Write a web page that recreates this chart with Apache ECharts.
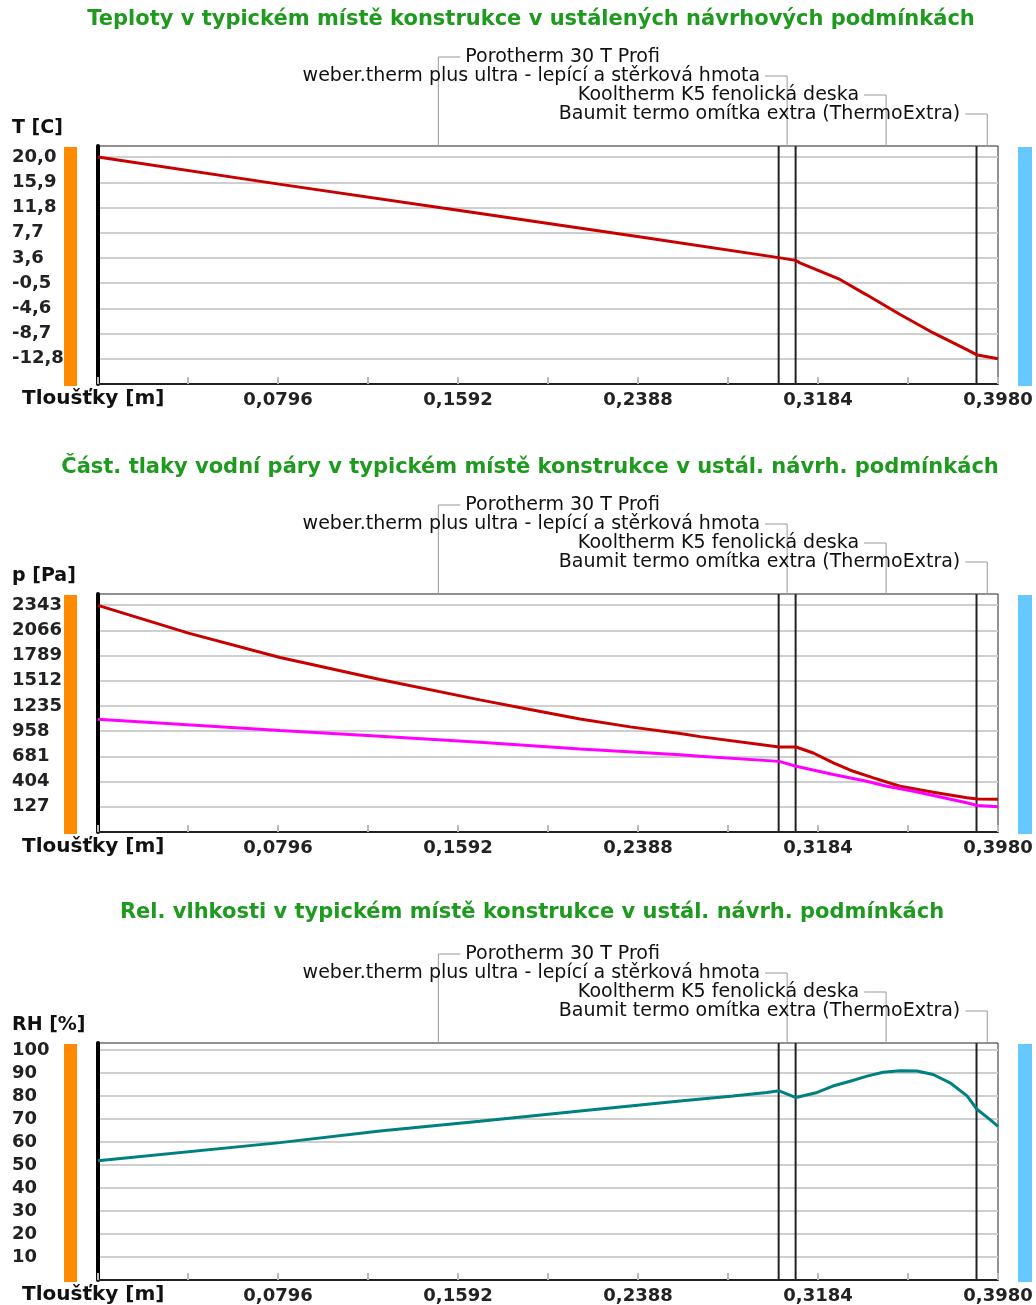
<!DOCTYPE html>
<html>
<head>
<meta charset="utf-8">
<title>Teploty a vlhkosti v konstrukci</title>
<script src="https://cdn.jsdelivr.net/npm/echarts@6/dist/echarts.min.js"></script>
<style>
  html, body { margin: 0; padding: 0; background: #fff; }
  #chart { width: 1036px; height: 1305px; }
</style>
</head>
<body>
<div id="chart"></div>
<script>
// vrstvy konstrukce (hranice v m)
const layerNames = [
  'Porotherm 30 T Profi',
  'weber.therm plus ultra - lepící a stěrková hmota',
  'Kooltherm K5 fenolická deska',
  'Baumit termo omítka extra (ThermoExtra)'
]
const layerBounds = [0, 0.301, 0.3085, 0.3885, 0.398]

const xLabels = [0.0796, 0.1592, 0.2388, 0.3184, 0.398]

// teploty
const tempX = [0, 0.08, 0.16, 0.24, 0.301, 0.3085, 0.3104, 0.3281, 0.3399, 0.3547, 0.3694, 0.3842, 0.3889, 0.398]
const tempY = [20.0, 15.6, 11.3, 7.0, 3.65, 3.2, 2.8, 0.1, -2.4, -5.6, -8.6, -11.3, -12.2, -12.8]
const tempTicks = [20.0, 15.9, 11.8, 7.7, 3.6, -0.5, -4.6, -8.7, -12.8]

// castecne tlaky - nasyceny (cervena) a skutecny (fialova)
const psatX = [0, 0.04, 0.0805, 0.1247, 0.1689, 0.191, 0.2132, 0.2353, 0.2574, 0.2662, 0.3012, 0.3087, 0.3163, 0.3252, 0.334, 0.3429, 0.3547, 0.3694, 0.3842, 0.3889, 0.398]
const psatY = [2340, 2035, 1768, 1525, 1302, 1195, 1092, 1005, 932, 898, 784, 784, 718, 609, 517, 445, 353, 287, 226, 212, 210]
const pvX = [0, 0.0805, 0.1247, 0.1689, 0.2132, 0.2574, 0.2662, 0.3012, 0.3087, 0.3252, 0.3399, 0.3488, 0.3606, 0.3694, 0.3842, 0.3889, 0.398]
const pvY = [1090, 966, 903, 836, 763, 700, 681, 626, 572, 481, 407, 353, 298, 251, 171, 141, 127]
const pTicks = [2343, 2066, 1789, 1512, 1235, 958, 681, 404, 127]

// relativni vlhkost
const rhX = [0, 0.0805, 0.1247, 0.1689, 0.2132, 0.2574, 0.2808, 0.2958, 0.3012, 0.3087, 0.318, 0.325, 0.3326, 0.3401, 0.3472, 0.3547, 0.3622, 0.3693, 0.3768, 0.3843, 0.3887, 0.3945, 0.398]
const rhY = [51.8, 59.7, 64.8, 69.0, 73.4, 77.8, 80.0, 81.5, 82.2, 79.3, 81.5, 84.3, 86.4, 88.6, 90.3, 90.9, 90.8, 89.3, 85.7, 80.0, 74.2, 69.7, 66.8]
const rhTicks = [100, 90, 80, 70, 60, 50, 40, 30, 20, 10]

const labelFont = { fontFamily: 'DejaVu Sans', fontWeight: 'bold', fontSize: 18, color: '#222' }
const plots = [
  { top: 146, height: 238, min: -16.9, max: 21.8, ticks: tempTicks, dec: 1,
    title: 'Teploty v typickém místě konstrukce v ustálených návrhových podmínkách', titleX: 531, titleY: 20, unit: 'T [C]' },
  { top: 594, height: 238, min: -150, max: 2465, ticks: pTicks, dec: 0,
    title: 'Část. tlaky vodní páry v typickém místě konstrukce v ustál. návrh. podmínkách', titleX: 530, titleY: 468, unit: 'p [Pa]' },
  { top: 1043, height: 237, min: 0, max: 103, ticks: rhTicks, dec: 0,
    title: 'Rel. vlhkosti v typickém místě konstrukce v ustál. návrh. podmínkách', titleX: 532, titleY: 913, unit: 'RH [%]' }
]

function zip(xs, ys) {
  return xs.map((x, i) => [x, ys[i]])
}

function renderLayer(params, api) {
  const k = api.value(2)
  const cs = params.coordSys
  const top = cs.y
  const bottom = cs.y + cs.height
  const mid = api.coord([(api.value(0) + api.value(1)) / 2, 0])[0]
  const end = api.coord([api.value(1), 0])[0]
  const rowY = top - 89 + k * 19
  const first = k === 0
  const children = []
  if (k < layerNames.length - 1) {
    children.push({
      type: 'line',
      shape: { x1: end, y1: top, x2: end, y2: bottom },
      style: { stroke: '#222', lineWidth: 2 }
    })
  }
  children.push({
    type: 'polyline',
    shape: { points: [[first ? mid + 22 : mid - 22, rowY], [mid, rowY], [mid, top]] },
    style: { stroke: '#999', lineWidth: 1, fill: null }
  })
  children.push({
    type: 'text',
    style: {
      text: layerNames[k],
      x: first ? mid + 27 : mid - 27,
      y: rowY,
      align: first ? 'left' : 'right',
      verticalAlign: 'middle',
      fontFamily: 'DejaVu Sans',
      fontSize: 19,
      fill: '#111'
    }
  })
  return { type: 'group', children }
}

const grid = []
const xAxis = []
const yAxis = []
const title = []
const graphic = []
const series = []

plots.forEach((p, i) => {
  grid.push({ left: 98, right: 38, top: p.top, height: p.height, show: true, borderColor: '#222', borderWidth: 1 })
  xAxis.push({
    gridIndex: i,
    type: 'value',
    min: 0,
    max: 0.398,
    interval: 0.0398,
    axisLine: { onZero: false, lineStyle: { color: '#222', width: 2 } },
    axisTick: { inside: true, length: 7, lineStyle: { color: '#bbb', width: 2 } },
    axisLabel: {
      customValues: xLabels,
      margin: 7,
      ...labelFont,
      formatter: (v) => v.toFixed(4).replace('.', ',')
    },
    splitLine: { show: false }
  })
  yAxis.push({
    gridIndex: i,
    type: 'value',
    min: p.min,
    max: p.max,
    axisLine: { show: true, onZero: false, lineStyle: { color: '#000', width: 4 } },
    axisTick: { show: false, customValues: p.ticks },
    axisLabel: {
      customValues: p.ticks,
      align: 'left',
      margin: 86,
      ...labelFont,
      formatter: (v) => v.toFixed(p.dec).replace('.', ',')
    },
    splitLine: { show: true, customValues: p.ticks, lineStyle: { color: '#cfcfcf', width: 2 } }
  })
  title.push({
    text: p.title, left: p.titleX, top: p.titleY, padding: 0,
    textAlign: 'center', textVerticalAlign: 'middle',
    textStyle: { fontFamily: 'DejaVu Sans', fontWeight: 'bold', fontSize: 21, color: '#1e9a1e' }
  })
  title.push({
    text: p.unit, left: 12, top: p.top - 18, padding: 0,
    textAlign: 'left', textVerticalAlign: 'middle',
    textStyle: { fontFamily: 'DejaVu Sans', fontWeight: 'bold', fontSize: 19, color: '#111' }
  })
  title.push({
    text: 'Tloušťky [m]', left: 22, top: p.top + p.height + 15, padding: 0,
    textAlign: 'left', textVerticalAlign: 'middle',
    textStyle: { fontFamily: 'DejaVu Sans', fontWeight: 'bold', fontSize: 20, color: '#111' }
  })
  // vnitrni (oranzova) a vnejsi (modra) strana
  graphic.push({ type: 'rect', shape: { x: 64, y: p.top + 1, width: 13, height: p.height + 1 }, style: { fill: '#ff8a00' } })
  graphic.push({ type: 'rect', shape: { x: 1018, y: p.top + 1, width: 14, height: p.height + 1 }, style: { fill: '#66c8ff' } })
  series.push({
    type: 'custom',
    xAxisIndex: i,
    yAxisIndex: i,
    silent: true,
    clip: false,
    z: 1,
    renderItem: renderLayer,
    data: layerNames.map((n, k) => [layerBounds[k], layerBounds[k + 1], k])
  })
})

const lineBase = { type: 'line', showSymbol: false, silent: true, z: 3 }
series.push({ ...lineBase, xAxisIndex: 0, yAxisIndex: 0, data: zip(tempX, tempY), lineStyle: { color: '#c80000', width: 3 } })
series.push({ ...lineBase, xAxisIndex: 1, yAxisIndex: 1, data: zip(psatX, psatY), lineStyle: { color: '#c80000', width: 3 } })
series.push({ ...lineBase, xAxisIndex: 1, yAxisIndex: 1, data: zip(pvX, pvY), lineStyle: { color: '#ff00ff', width: 3 } })
series.push({ ...lineBase, xAxisIndex: 2, yAxisIndex: 2, data: zip(rhX, rhY), lineStyle: { color: '#008080', width: 3 } })

const chart = echarts.init(document.getElementById('chart'))
chart.setOption({
  animation: false,
  backgroundColor: '#fff',
  title,
  grid,
  xAxis,
  yAxis,
  graphic,
  series
})
</script>
</body>
</html>
